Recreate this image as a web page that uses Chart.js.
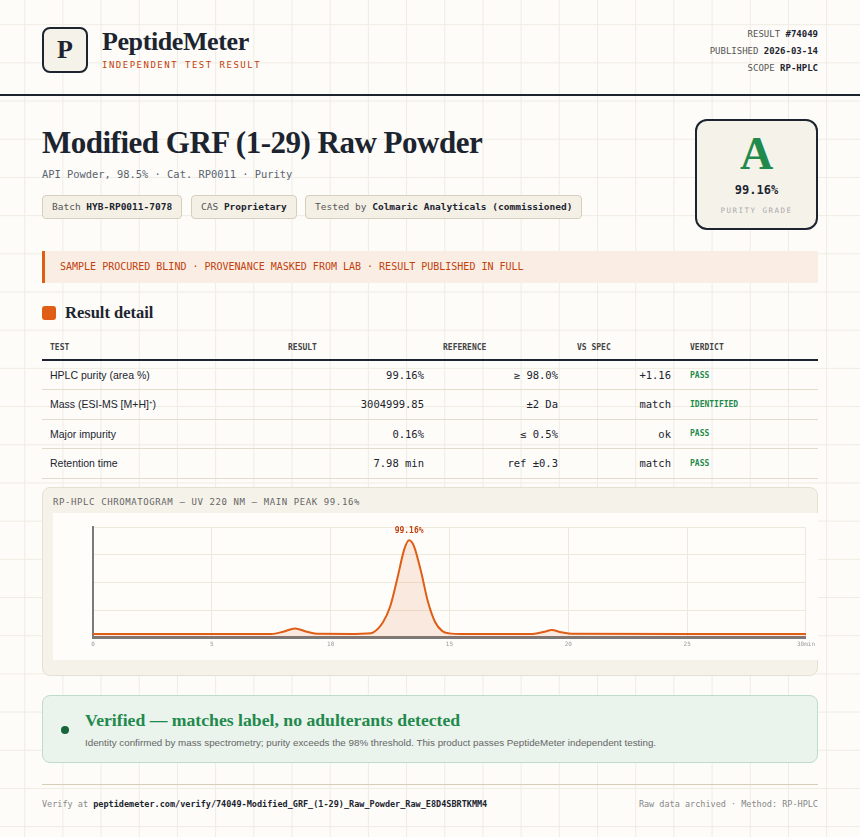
<!DOCTYPE html>
<html><head><meta charset="utf-8">
<script src="https://cdn.jsdelivr.net/npm/chart.js@4"></script>
<style>
*{box-sizing:border-box;margin:0;padding:0}
body{width:860px;height:837px;overflow:hidden;background-color:#fdfcf8;
background-image:linear-gradient(#efece3 1px,transparent 1px),linear-gradient(90deg,#efece3 1px,transparent 1px);
background-size:38.2px 38.2px;background-position:-14px -14px;font-family:"Liberation Sans",Arial,sans-serif;color:#1c2430;position:relative}
.mono{font-family:"DejaVu Sans Mono",monospace}
.serif{font-family:"Liberation Serif","DejaVu Serif",serif}
.abs{position:absolute}
.logo{left:42px;top:27px;width:46px;height:46px;border:2px solid #1c2430;border-radius:8px;background:#f5f2ea;font-size:26px;font-weight:bold;text-align:center;line-height:42px}
.brand{left:102px;top:27px;font-size:26px;font-weight:bold;letter-spacing:-0.4px}
.sub{left:102px;top:60px;font-size:9px;letter-spacing:1.5px;color:#c2410c}
.meta{right:42px;text-align:right;font-size:9px;color:#555}
.meta b{color:#1c2430}
.rule{left:0;top:94px;width:860px;height:2px;background:#1c2430}
h1{position:absolute;left:42px;top:125px;font-size:31px;font-weight:bold;letter-spacing:-0.5px}
.pill{top:195px;height:24px;border:1px solid #d7cfbd;border-radius:4px;background:#f4f0e6;font-size:9.5px;color:#555;padding:0 9px;line-height:22px}
.pill b{color:#1c2430}
.grade{left:695px;top:119px;width:123px;height:111px;border:2px solid #1c2430;border-radius:12px;background:#f5f2ea;text-align:center}
.banner{left:42px;top:251px;width:776px;height:32px;background:#faeee4;border-left:3px solid #e05d16;font-size:10px;color:#c2410c;line-height:32px;padding-left:15px}
table{position:absolute;left:42px;top:336px;width:776px;border-collapse:collapse;table-layout:fixed}
th{font-family:"DejaVu Sans Mono",monospace;font-size:8px;font-weight:bold;color:#444;text-align:left;height:24px;border-bottom:2px solid #1c2430;padding:0 8px}
td{height:29.5px;border-bottom:1px solid #e2dccd;font-size:10.5px;padding:0 8px}
td.n{font-family:"DejaVu Sans Mono",monospace;text-align:right;font-size:10.5px;padding-right:11px}
td.v{font-family:"DejaVu Sans Mono",monospace;font-size:8px;font-weight:bold;color:#1f8a4c}
.panel{left:42px;top:487px;width:776px;height:189px;background:#f5f2ea;border:1px solid #e6e0d2;border-radius:8px}
.chartbox{left:53px;top:513px;width:765px;height:147px;background:#fefdfa}
.ok{left:42px;top:695px;width:776px;height:68px;background:#eaf3ec;border:1px solid #bfdcc8;border-radius:8px}
</style></head><body>
<div class="abs logo serif">P</div>
<div class="abs brand serif">PeptideMeter</div>
<div class="abs sub mono">INDEPENDENT TEST RESULT</div>
<div class="abs meta mono" style="top:29px">RESULT <b>#74049</b></div>
<div class="abs meta mono" style="top:46px">PUBLISHED <b>2026-03-14</b></div>
<div class="abs meta mono" style="top:63px">SCOPE <b>RP-HPLC</b></div>
<div class="abs rule"></div>
<h1 class="serif">Modified GRF (1-29) Raw Powder</h1>
<div class="abs mono" style="left:42px;top:168px;font-size:10.4px;color:#5a6470">API Powder, 98.5% · Cat. RP0011 · Purity</div>
<div class="abs pill mono" style="left:42px">Batch <b>HYB-RP0011-7078</b></div>
<div class="abs pill mono" style="left:191px">CAS <b>Proprietary</b></div>
<div class="abs pill mono" style="left:305px">Tested by <b>Colmaric Analyticals (commissioned)</b></div>
<div class="abs grade">
 <div class="serif" style="font-size:46px;font-weight:bold;color:#1f8a4c;margin-top:10px;line-height:46px">A</div>
 <div class="mono" style="font-size:12px;font-weight:bold;margin-top:6px">99.16%</div>
 <div class="mono" style="font-size:7.5px;color:#aaa;letter-spacing:1.5px;margin-top:9px">PURITY GRADE</div>
</div>
<div class="abs banner mono">SAMPLE PROCURED BLIND · PROVENANCE MASKED FROM LAB · RESULT PUBLISHED IN FULL</div>
<div class="abs" style="left:42px;top:306px;width:14px;height:14px;background:#e05d16;border-radius:3px"></div>
<div class="abs serif" style="left:65px;top:303px;font-size:16.5px;font-weight:bold">Result detail</div>
<table>
<tr><th style="width:238px">TEST</th><th style="width:155px">RESULT</th><th style="width:134px">REFERENCE</th><th style="width:113px">VS SPEC</th><th>VERDICT</th></tr>
<tr><td>HPLC purity (area %)</td><td class="n">99.16%</td><td class="n">≥ 98.0%</td><td class="n">+1.16</td><td class="v">PASS</td></tr>
<tr><td>Mass (ESI-MS [M+H]<sup style="font-size:6px">+</sup>)</td><td class="n">3004999.85</td><td class="n">±2 Da</td><td class="n">match</td><td class="v">IDENTIFIED</td></tr>
<tr><td>Major impurity</td><td class="n">0.16%</td><td class="n">≤ 0.5%</td><td class="n">ok</td><td class="v">PASS</td></tr>
<tr><td>Retention time</td><td class="n">7.98 min</td><td class="n">ref ±0.3</td><td class="n">match</td><td class="v">PASS</td></tr>
</table>
<div class="abs panel"></div>
<div class="abs mono" style="left:53px;top:497px;font-size:9px;letter-spacing:0.6px;color:#666">RP-HPLC CHROMATOGRAM — UV 220 NM — MAIN PEAK 99.16%</div>
<div class="abs chartbox"><canvas id="c" width="765" height="147"></canvas></div>
<div class="abs ok"></div>
<div class="abs" style="left:61px;top:726px;width:8px;height:8px;border-radius:50%;background:#17653a"></div>
<div class="abs serif" style="left:85px;top:710px;font-size:17.7px;font-weight:bold;color:#1f8a4c">Verified — matches label, no adulterants detected</div>
<div class="abs" style="left:85px;top:737px;font-size:9.8px;color:#666">Identity confirmed by mass spectrometry; purity exceeds the 98% threshold. This product passes PeptideMeter independent testing.</div>
<div class="abs" style="left:42px;top:784px;width:776px;height:1px;background:#d8ceb8"></div>
<div class="abs mono" style="left:42px;top:799px;font-size:8.5px;color:#888">Verify at <b style="color:#1c2430">peptidemeter.com/verify/74049-Modified_GRF_(1-29)_Raw_Powder_Raw_E8D4SBRTKMM4</b></div>
<div class="abs mono" style="right:42px;top:799px;font-size:8.5px;color:#888">Raw data archived · Method: RP-HPLC</div>
<script>
const times=[0,2,4,6,7.5,8,8.5,9,9.5,11,11.5,11.8,12.2,12.5,12.8,13.1,13.3,13.5,13.8,14.1,14.4,14.7,15,15.5,18.5,19,19.3,19.7,20.2,25,30];
const signal=[3.5,3.5,3.5,3.5,3.5,5.5,8.5,5.5,3.6,3.5,3.8,5,14,28,53,80,88,83,60,32,14,6,4,3.5,3.5,5.5,7,5,3.6,3.5,3.5];
const xTicks=[0,5,10,15,20,25,30];
const xTickLabels=['0','5','10','15','20','25','30min'];
const peakLabel='99.16%';
const peakIndex=16;
const pts=times.map((t,i)=>({x:t,y:signal[i]}));
const labelPlugin={id:'pk',afterDatasetsDraw(ch){const p=ch.getDatasetMeta(0).data[peakIndex];const c=ch.ctx;c.save();c.font='bold 8px "DejaVu Sans Mono"';c.fillStyle='#c2410c';c.textAlign='center';c.fillText(peakLabel,p.x,p.y-7);c.restore();}};
new Chart(document.getElementById('c'),{type:'line',data:{datasets:[{data:pts,borderColor:'#e05d16',borderWidth:2,backgroundColor:'rgba(224,93,22,0.12)',fill:true,pointRadius:0,tension:0.4,cubicInterpolationMode:'monotone'}]},
options:{responsive:false,animation:false,layout:{padding:{left:40,right:2,top:14,bottom:9}},plugins:{legend:{display:false},tooltip:{enabled:false}},
scales:{x:{type:'linear',min:0,max:30,afterBuildTicks:a=>{a.ticks=xTicks.map(v=>({value:v}))},ticks:{callback:(v)=>xTickLabels[xTicks.indexOf(v)],font:{size:6,family:'DejaVu Sans Mono'},color:'#999',maxRotation:0},grid:{color:'#eee9dd',drawTicks:false},border:{color:'#7a7a7a',width:3}},
y:{min:0,max:100,ticks:{display:false,stepSize:25},grid:{color:'#eee9dd',drawTicks:false},border:{color:'#7a7a7a',width:2}}}},plugins:[labelPlugin]});
</script>
</body></html>
